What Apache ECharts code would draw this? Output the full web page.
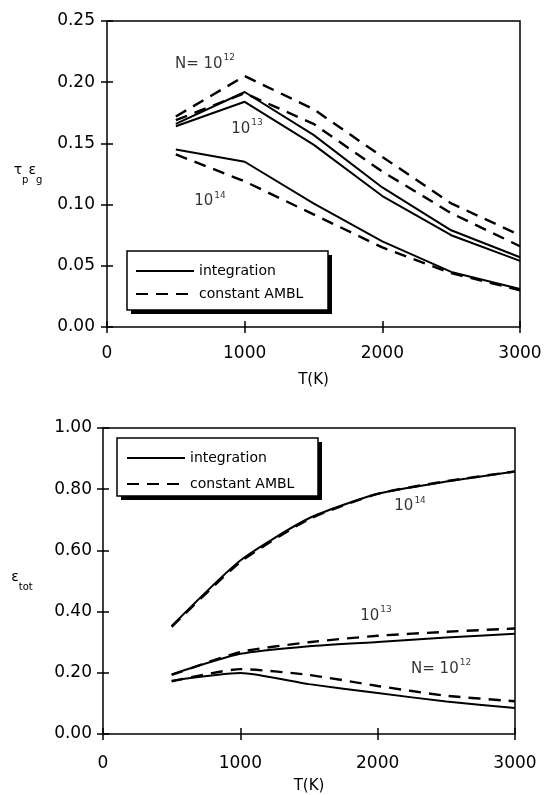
<!DOCTYPE html>
<html>
<head>
<meta charset="utf-8">
<title>Grain emission vs temperature</title>
<script src="https://cdn.jsdelivr.net/npm/echarts@6/dist/echarts.min.js"></script>
<style>
  html, body { margin: 0; padding: 0; background: #fff; }
  #chart { width: 548px; height: 795px; }
</style>
</head>
<body>
<div id="chart"></div>
<script>
// Temperatures (K) at which both models were evaluated
const temps = [500, 1000, 1500, 2000, 2500, 3000];

// Upper panel: tau_p * eps_g, full integration
const tauInt12 = [0.166, 0.192, 0.157, 0.114, 0.079, 0.057];
const tauInt13 = [0.164, 0.184, 0.149, 0.107, 0.075, 0.054];
const tauInt14 = [0.145, 0.135, 0.101, 0.070, 0.045, 0.031];
// Upper panel: tau_p * eps_g, constant AMBL
const tauAmb12 = [0.172, 0.205, 0.178, 0.139, 0.101, 0.075];
const tauAmb13 = [0.169, 0.191, 0.166, 0.127, 0.093, 0.066];
const tauAmb14 = [0.141, 0.119, 0.092, 0.065, 0.044, 0.030];

// Lower panel: eps_tot, full integration
const epsInt12 = [0.174, 0.199, 0.163, 0.134, 0.106, 0.085];
const epsInt13 = [0.195, 0.262, 0.287, 0.301, 0.315, 0.328];
const epsInt14 = [0.353, 0.567, 0.705, 0.785, 0.825, 0.858];
// Lower panel: eps_tot, constant AMBL
const epsAmb12 = [0.172, 0.212, 0.193, 0.157, 0.125, 0.107];
const epsAmb13 = [0.193, 0.268, 0.300, 0.321, 0.334, 0.345];
const epsAmb14 = [0.350, 0.562, 0.702, 0.785, 0.826, 0.858];

// Curve labels: [T, value, mantissa text, exponent]
const notesTop = [
  [712, 0.216, 'N= 10', '12'],
  [1017, 0.163, '10', '13'],
  [748, 0.104, '10', '14']
];
const notesBottom = [
  [2236, 0.749, '10', '14'],
  [1988, 0.391, '10', '13'],
  [2462, 0.218, 'N= 10', '12']
];

const legendNames = ['integration', 'constant AMBL'];
const FONT = 'DejaVu Sans';
const INK = '#000';

const chart = echarts.init(document.getElementById('chart'), null, { renderer: 'canvas' });

function pairs(values) {
  return temps.map((t, i) => [t, values[i]]);
}

function curve(name, values, panel, smooth) {
  const dashed = name === legendNames[1];
  return {
    type: 'line',
    name: name,
    xAxisIndex: panel * 2,
    yAxisIndex: panel * 2,
    data: pairs(values),
    symbol: 'none',
    smooth: smooth,
    silent: true,
    itemStyle: { color: '#000' },
    lineStyle: {
      color: '#000',
      width: dashed ? 2.4 : 2,
      type: dashed ? [12, 8] : 'solid'
    },
    z: 3
  };
}

function notes(list, panel) {
  return {
    type: 'scatter',
    name: 'notes' + panel,
    xAxisIndex: panel * 2,
    yAxisIndex: panel * 2,
    data: list,
    symbolSize: 0,
    itemStyle: { color: '#000' },
    silent: true,
    label: {
      show: true,
      position: 'inside',
      color: INK,
      textBorderWidth: 0,
      formatter: p => '{m|' + p.data[2] + '}{s|' + p.data[3] + '}',
      rich: {
        m: { fontFamily: FONT, fontSize: 15, color: INK, lineHeight: 18, verticalAlign: 'bottom', textBorderWidth: 0 },
        s: { fontFamily: FONT, fontSize: 9, color: INK, lineHeight: 18, verticalAlign: 'top', padding: [0, 0, 0, 1], textBorderWidth: 0 }
      }
    },
    z: 4
  };
}

function xAxes(gridIndex, labelMargin, nameGap) {
  return [
    {
      gridIndex: gridIndex,
      type: 'value',
      position: 'bottom',
      min: 0, max: 3000, interval: 1000,
      name: 'T(K)',
      nameLocation: 'middle',
      nameGap: nameGap,
      nameTextStyle: { fontFamily: FONT, fontSize: 15, color: INK },
      axisLine: { show: false },
      axisTick: { show: true, inside: true, length: 6, lineStyle: { color: '#000', width: 1.5 } },
      axisLabel: { fontFamily: FONT, fontSize: 17, color: INK, margin: labelMargin, formatter: v => String(v) },
      splitLine: { show: false }
    },
    {
      gridIndex: gridIndex,
      type: 'value',
      position: 'top',
      min: 0, max: 3000, interval: 1000,
      axisLine: { show: false },
      axisTick: { show: true, inside: true, length: 6, lineStyle: { color: '#000', width: 1.5 } },
      axisLabel: { show: false },
      splitLine: { show: false }
    }
  ];
}

function yAxes(gridIndex, max, interval, nameRich, nameGap, labelMargin) {
  return [
    {
      gridIndex: gridIndex,
      type: 'value',
      position: 'left',
      min: 0, max: max, interval: interval,
      name: nameRich,
      nameLocation: 'middle',
      nameRotate: 0,
      nameGap: nameGap,
      nameTextStyle: {
        align: 'center',
        verticalAlign: 'middle',
        rich: {
          m: { fontFamily: FONT, fontSize: 14, color: INK, verticalAlign: 'top', lineHeight: 22 },
          sub: { fontFamily: FONT, fontSize: 10, color: INK, verticalAlign: 'bottom', lineHeight: 22 }
        }
      },
      axisLine: { show: false },
      axisTick: { show: true, inside: true, length: 6, lineStyle: { color: '#000', width: 1.5 } },
      axisLabel: {
        fontFamily: FONT, fontSize: 17, color: INK, margin: labelMargin,
        formatter: v => v.toFixed(2)
      },
      splitLine: { show: false }
    },
    {
      gridIndex: gridIndex,
      type: 'value',
      position: 'right',
      min: 0, max: max, interval: interval,
      axisLine: { show: false },
      axisTick: { show: true, inside: true, length: 6, lineStyle: { color: '#000', width: 1.5 } },
      axisLabel: { show: false },
      splitLine: { show: false }
    }
  ];
}

function legendBox(left, top, padding, itemGap) {
  return {
    data: legendNames,
    orient: 'vertical',
    left: left,
    top: top,
    padding: padding,
    itemGap: itemGap,
    itemWidth: 58,
    itemHeight: 14,
    selectedMode: false,
    backgroundColor: 'transparent',
    borderWidth: 0,
    itemStyle: { opacity: 0 },
    textStyle: { fontFamily: FONT, fontSize: 14, color: INK }
  };
}

// Framed legend panel with a solid drop shadow on the right and bottom
function legendFrame(x, y, w, h) {
  return [
    { type: 'rect', z: 5, silent: true, shape: { x: x + 4, y: y + 4, width: w, height: h }, style: { fill: '#000' } },
    { type: 'rect', z: 6, silent: true, shape: { x: x, y: y, width: w, height: h }, style: { fill: '#fff', stroke: '#000', lineWidth: 1.5 } }
  ];
}

const option = {
  animation: false,
  backgroundColor: '#fff',
  grid: [
    { left: 107, right: 28, top: 21, height: 306, show: true, borderColor: '#000', borderWidth: 1.5, backgroundColor: 'transparent' },
    { left: 103, right: 33, top: 428, height: 307, show: true, borderColor: '#000', borderWidth: 1.5, backgroundColor: 'transparent' }
  ],
  xAxis: [].concat(xAxes(0, 18, 46), xAxes(1, 21, 45)),
  yAxis: [].concat(
    yAxes(0, 0.25, 0.05, '{m|τ}{sub|p}{m|ε}{sub|g}', 79, 12),
    yAxes(1, 1.0, 0.2, '{m|ε}{sub|tot}', 81, 11)
  ),
  graphic: [].concat(
    legendFrame(127, 251, 201, 59),
    legendFrame(117, 438, 201, 58)
  ),
  legend: [
    Object.assign(legendBox(127, 251, [13, 20, 10, 8], 9), { z: 8 }),
    Object.assign(legendBox(117, 438, [13, 20, 8, 9], 12), { z: 8 })
  ],
  series: [
    curve(legendNames[0], tauInt12, 0, false),
    curve(legendNames[0], tauInt13, 0, false),
    curve(legendNames[0], tauInt14, 0, false),
    curve(legendNames[1], tauAmb12, 0, false),
    curve(legendNames[1], tauAmb13, 0, false),
    curve(legendNames[1], tauAmb14, 0, false),
    curve(legendNames[0], epsInt12, 1, 0.2),
    curve(legendNames[0], epsInt13, 1, 0.2),
    curve(legendNames[0], epsInt14, 1, 0.2),
    curve(legendNames[1], epsAmb12, 1, 0.2),
    curve(legendNames[1], epsAmb13, 1, 0.2),
    curve(legendNames[1], epsAmb14, 1, 0.2),
    notes(notesTop, 0),
    notes(notesBottom, 1)
  ]
};

chart.setOption(option);
</script>
</body>
</html>
